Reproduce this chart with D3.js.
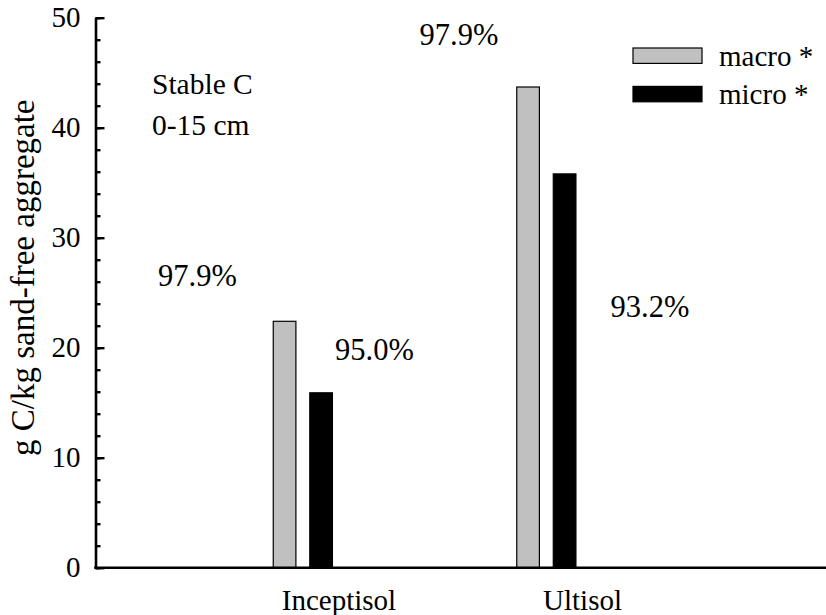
<!DOCTYPE html>
<html>
<head>
<meta charset="utf-8">
<script src="https://cdn.jsdelivr.net/npm/d3@7"></script>
<style>
  body { margin: 0; background: #fff; }
</style>
</head>
<body>
<div class="canvas"></div>
<script>
// data
const soils = ["Inceptisol", "Ultisol"];
const fractions = ["macro", "micro"];
const macroC = [22.4, 43.7];
const microC = [15.9, 35.8];
const legendLabels = ["macro *", "micro *"];
const yTicks = [0, 10, 20, 30, 40, 50];
const noteLines = ["Stable C", "0-15 cm"];
// percent labels: text, soil, value on y
const pctLabels = ["97.9%", "95.0%", "97.9%", "93.2%"];
const pctSoil = ["Inceptisol", "Inceptisol", "Ultisol", "Ultisol"];
const pctY = [25.6, 18.9, 47.5, 22.8];
const pctDx = [-181, -4, -163, 28]; // offset from category position, px

const serif = "'Liberation Serif', 'Times New Roman', 'DejaVu Serif', serif";
const dims = { width: 826, height: 615 };
const margin = { left: 95.5, top: 17.7, bottom: 47.3 };

const svg = d3
  .select(".canvas")
  .append("svg")
  .attr("width", dims.width)
  .attr("height", dims.height)
  .style("font-family", serif);

const y = d3
  .scaleLinear()
  .domain([0, 50])
  .range([dims.height - margin.bottom, margin.top]);

const x = d3
  .scalePoint()
  .domain(soils)
  .range([margin.left, dims.width])
  .padding(1);

// bars sit just left of the category position
const sub = d3
  .scaleBand()
  .domain(fractions)
  .range([-0.27 * x.step(), -0.027 * x.step()])
  .paddingInner(0.38);

const colour = d3.scaleOrdinal().domain(fractions).range(["#c0c0c0", "#000"]);

const rows = soils.map((s, i) => ({ soil: s, macro: macroC[i], micro: microC[i] }));

// bars
const groups = svg
  .selectAll("g.soil")
  .data(rows)
  .enter()
  .append("g")
  .attr("class", "soil")
  .attr("transform", (d) => `translate(${x(d.soil)}, 0)`);

groups
  .selectAll("rect")
  .data((d) => fractions.map((f) => ({ key: f, value: d[f] })))
  .enter()
  .append("rect")
  .attr("x", (d) => sub(d.key))
  .attr("width", sub.bandwidth())
  .attr("y", (d) => y(d.value))
  .attr("height", (d) => y(0) - y(d.value))
  .attr("fill", (d) => colour(d.key))
  .attr("stroke", "#000")
  .attr("stroke-width", 1.2);

// y axis, ticks pointing inward
const yAxis = svg
  .append("g")
  .attr("transform", `translate(${margin.left}, 0)`)
  .call(d3.axisLeft(y).tickValues(yTicks).tickSizeInner(-9).tickSizeOuter(0).tickPadding(15));

yAxis.attr("font-family", null).attr("font-size", null);
yAxis.select(".domain").attr("stroke-width", 2.6);
yAxis.selectAll(".tick line").attr("stroke-width", 2.4);
yAxis.selectAll("text").style("font-family", serif).style("font-size", "29px");

// minor ticks every 2
svg
  .append("g")
  .attr("transform", `translate(${margin.left}, 0)`)
  .call(d3.axisLeft(y).ticks(25).tickSizeInner(-5).tickSizeOuter(0).tickFormat(""))
  .call((g) => g.select(".domain").remove())
  .selectAll(".tick line")
  .attr("stroke-width", 2.4);

// x axis line running to the right edge
svg
  .append("line")
  .attr("x1", margin.left - 1.3)
  .attr("x2", dims.width)
  .attr("y1", y(0))
  .attr("y2", y(0))
  .attr("stroke", "#000")
  .attr("stroke-width", 2.6);

// category labels
svg
  .selectAll("text.cat")
  .data(soils)
  .enter()
  .append("text")
  .attr("class", "cat")
  .attr("x", (d) => x(d))
  .attr("y", y(0) + 42)
  .attr("text-anchor", "middle")
  .style("font-family", serif)
  .style("font-size", "29px")
  .text((d) => d);

// y title
svg
  .append("text")
  .attr("transform", `translate(34, ${(y(0) + y(50)) / 2 - 15}) rotate(-90)`)
  .attr("text-anchor", "middle")
  .style("font-family", serif)
  .style("font-size", "33px")
  .text("g C/kg sand-free aggregate");

// note
svg
  .selectAll("text.note")
  .data(noteLines)
  .enter()
  .append("text")
  .attr("class", "note")
  .attr("x", 152)
  .attr("y", (d, i) => 94 + i * 41)
  .style("font-family", serif)
  .style("font-size", "29.5px")
  .text((d) => d);

// percent labels
svg
  .selectAll("text.pct")
  .data(pctLabels)
  .enter()
  .append("text")
  .attr("class", "pct")
  .attr("x", (d, i) => x(pctSoil[i]) + pctDx[i])
  .attr("y", (d, i) => y(pctY[i]))
  .style("font-family", serif)
  .style("font-size", "30.5px")
  .text((d) => d);

// legend
const legendGroup = svg.append("g").attr("transform", "translate(633, 48)");
const legendItems = legendGroup
  .selectAll("g")
  .data(fractions)
  .enter()
  .append("g")
  .attr("transform", (d, i) => `translate(0, ${i * 38.4})`);

legendItems
  .append("rect")
  .attr("width", 69)
  .attr("height", 15.4)
  .attr("fill", (d) => colour(d))
  .attr("stroke", "#000")
  .attr("stroke-width", 1.2);

legendItems
  .append("text")
  .attr("x", 86)
  .attr("y", 18)
  .style("font-family", serif)
  .style("font-size", "29px")
  .text((d, i) => legendLabels[i]);
</script>
</body>
</html>
